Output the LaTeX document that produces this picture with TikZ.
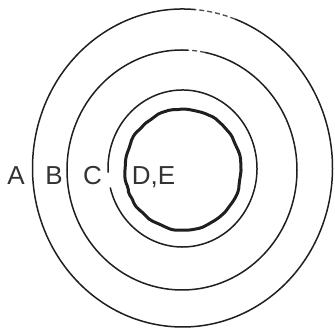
\documentclass[tikz,border=0pt]{standalone}
\usepackage{fontspec}
\setmainfont{Liberation Sans}
\usetikzlibrary{decorations.pathmorphing}
\begin{document}
\begin{tikzpicture}[x=1pt,y=1pt,
  ring/.style={line width=1.5pt,black!88},
  gapring/.style={line width=1.3pt,black!70,dash pattern=on 5pt off 3pt},
  core/.style={line width=3pt,black!88,decorate,decoration={random steps,segment length=6pt,amplitude=0.8pt},rounded corners=2pt},
  lbl/.style={font=\fontsize{26}{26}\selectfont,anchor=base,inner sep=0pt,text=black!80}]
\useasboundingbox (0,0) rectangle (335,328);
\pgfmathsetseed{7}
% outer ring A|B
\coordinate (o1) at (182.5,160);
\draw[ring] ([shift={(85:150 and 159)}]o1) arc[start angle=85,end angle=429.5,x radius=150,y radius=159];
\draw[gapring] ([shift={(69.5:150 and 159)}]o1) arc[start angle=69.5,end angle=85,x radius=150,y radius=159];
% second ring B|C
\coordinate (o2) at (182,158);
\draw[ring] ([shift={(87:115 and 120)}]o2) arc[start angle=87,end angle=438.5,x radius=115,y radius=120];
\draw[gapring] ([shift={(78.5:115 and 120)}]o2) arc[start angle=78.5,end angle=87,x radius=115,y radius=120];
% third ring C|D
\coordinate (o3) at (182.5,159.5);
\draw[ring] ([shift={(194:74.5 and 78.5)}]o3) arc[start angle=194,end angle=543,x radius=74.5,y radius=78.5];
% core
\coordinate (o4) at (183,158.5);
\draw[core] (o4) ellipse[x radius=58,y radius=60.5];
% labels
\node[lbl] (A) at (16,143) {A};
\node[lbl] (B) at (54,143) {B};
\node[lbl] (C) at (92.5,143) {C};
\node[lbl] (DE) at (153.5,143) {D,E};
\end{tikzpicture}
\end{document}
